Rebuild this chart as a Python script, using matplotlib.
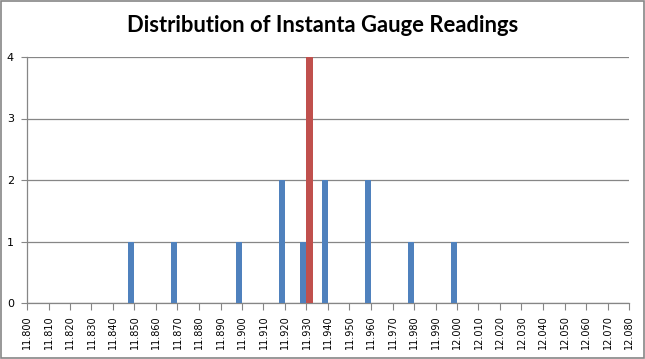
import matplotlib.pyplot as plt
from matplotlib.patches import Rectangle
import numpy as np

readings = [11.850, 11.870, 11.900, 11.920, 11.930, 11.940, 11.960, 11.980, 12.000]
counts = [1, 1, 1, 2, 1, 2, 2, 1, 1]
target = [11.930]
target_count = [4]
ticks = np.round(np.arange(11.800, 12.0801, 0.010), 3)
tick_labels = ['%.3f' % t for t in ticks]

fig = plt.figure(figsize=(6.45, 3.59), dpi=100)
ax = fig.add_axes([27 / 645, 56 / 359, 602 / 645, 246 / 359])

w = 0.0028
ax.bar(readings, counts, width=-w, align='edge', color='#4F81BD', zorder=3)
ax.bar(target, target_count, width=w, align='edge', color='#C0504D', zorder=3)

ax.set_xlim(11.800, 12.080)
ax.set_ylim(0, 4)
ax.set_xticks(ticks)
ax.set_xticklabels(tick_labels, rotation=90, fontsize=7, family='DejaVu Sans')
ax.set_yticks([0, 1, 2, 3, 4])
ax.tick_params(axis='y', labelsize=8, length=4, color='#868686', pad=5.5)
ax.tick_params(axis='x', length=5, color='#868686', pad=4)
ax.grid(axis='y', color='#868686', linewidth=0.9, zorder=0)
for s in ['top', 'right']:
    ax.spines[s].set_visible(False)
for s in ['left', 'bottom']:
    ax.spines[s].set_color('#868686')
    ax.spines[s].set_linewidth(0.9)

fig.text(0.5, 0.928, 'Distribution of Instanta Gauge Readings', ha='center', va='center',
         fontsize=15.8, fontweight='bold', family='Lato')
fig.patches.append(Rectangle((0.001, 0.002), 0.997, 0.995, transform=fig.transFigure,
                             fill=False, edgecolor='#868686', linewidth=1.2))

fig.savefig('out.png', dpi=100)
